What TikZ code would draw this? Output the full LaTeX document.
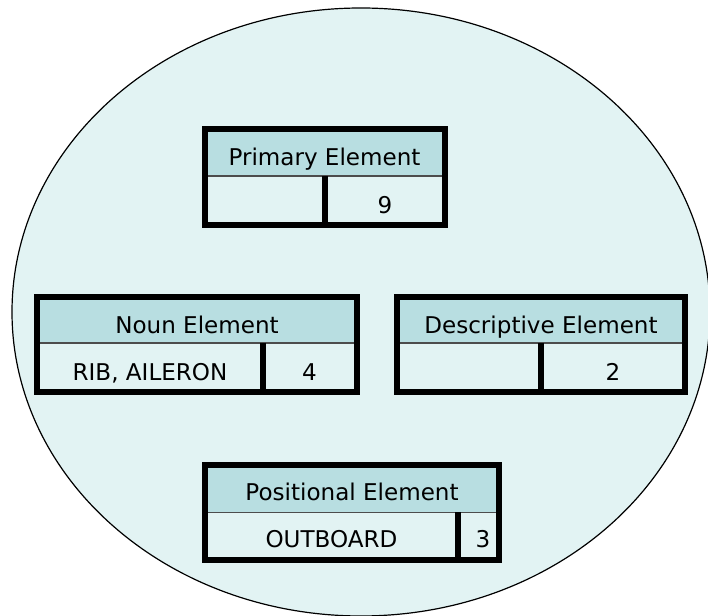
\documentclass[tikz,border=0pt]{standalone}
\usepackage{fontspec}
\setmainfont{DejaVu Sans}
\definecolor{paleteal}{RGB}{226,243,243}
\definecolor{headteal}{RGB}{184,222,225}
\begin{document}
\begin{tikzpicture}[x=0.75pt,y=-0.75pt,
  frame/.style={draw=black,line width=4.5pt,line join=miter},
  headfill/.style={fill=headteal},
  headrule/.style={draw=black!70,line width=1.3pt},
  cellrule/.style={draw=black,line width=4.5pt},
  lbl/.style={font=\fontsize{17.3pt}{20pt}\selectfont,anchor=base,inner sep=0pt}]
\useasboundingbox (0,0) rectangle (708,616);

% surrounding ellipse
\draw[fill=paleteal,draw=black,line width=0.9pt] (361,312) ellipse [x radius=349,y radius=304];

% Primary Element
\fill[headfill] (205,129) rectangle (445,176);
\draw[headrule] (205,176) -- (445,176);
\draw[cellrule] (325,176) -- (325,225);
\draw[frame] (205,129) rectangle (445,225);
\node[lbl] (primhead) at (324.5,165.7) {Primary Element};
\node[lbl] (primnum) at (385,214) {9};

% Noun Element
\fill[headfill] (37,297) rectangle (357,343);
\draw[headrule] (37,343) -- (357,343);
\draw[cellrule] (262.5,343) -- (262.5,392);
\draw[frame] (37,297) rectangle (357,392);
\node[lbl] (nounhead) at (197,333.3) {Noun Element};
\node[lbl] (nountext) at (150,381) {RIB, AILERON};
\node[lbl] (nounnum) at (309.5,381) {4};

% Descriptive Element
\fill[headfill] (397,297) rectangle (685,343);
\draw[headrule] (397,343) -- (685,343);
\draw[cellrule] (541,343) -- (541,392);
\draw[frame] (397,297) rectangle (685,392);
\node[lbl] (deschead) at (541,333.3) {Descriptive Element};
\node[lbl] (descnum) at (613,381) {2};

% Positional Element
\fill[headfill] (205,465) rectangle (499,512.5);
\draw[headrule] (205,512.5) -- (499,512.5);
\draw[cellrule] (457.5,512.5) -- (457.5,560);
\draw[frame] (205,465) rectangle (499,560);
\node[lbl] (poshead) at (352,500.7) {Positional Element};
\node[lbl] (postext) at (331.5,548) {OUTBOARD};
\node[lbl] (posnum) at (483,548) {3};
\end{tikzpicture}
\end{document}
